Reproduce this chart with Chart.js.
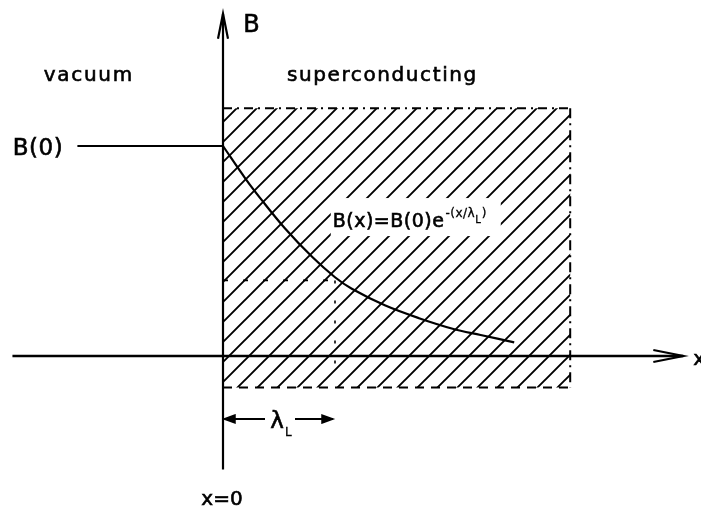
<!DOCTYPE html>
<html>
<head>
<meta charset="utf-8">
<script src="https://cdn.jsdelivr.net/npm/chart.js@4.4.1/dist/chart.umd.min.js"></script>
<style>
  html, body { margin: 0; padding: 0; background: #fff; }
  canvas { display: block; }
</style>
</head>
<body>
<canvas id="london-chart" width="701" height="507"></canvas>
<script>
// x in units of the London depth lambda_L, B in units of B(0)
const curveX = [0, 0.2, 0.35, 0.55, 0.8, 1.0, 1.15, 1.45, 1.75, 2.05, 2.3, 2.6];
const curveB = [1.0, 0.845, 0.74, 0.61, 0.47, 0.375, 0.32, 0.24, 0.18, 0.13, 0.1, 0.065];
const xAxisEnds = [-1.88, 4.11];
const bAxisEnds = [-0.54, 1.63];
const slabX = [0, 3.1];
const slabB = [-0.15, 1.18];
const b0LineX = [-1.3, 0];
const b0 = 1.0;
const lambdaL = 1.0;
const bAtLambda = 0.36;
const dropLineB = [bAtLambda, -0.07];
const lambdaArrowB = -0.3;
const regionLabels = ['vacuum', 'superconducting'];
const axisLabels = ['B', 'x'];
const formulaParts = ['B(x)=B(0)e', '-(x/λ', 'L', ')'];

function pts(xs, ys) {
  return xs.map((x, i) => ({ x: x, y: ys[i] }));
}

function hatchPattern() {
  const c = document.createElement('canvas');
  c.width = 20; c.height = 20;
  const g = c.getContext('2d');
  g.strokeStyle = '#000';
  g.lineWidth = 1.9;
  g.beginPath();
  g.moveTo(-2, 22); g.lineTo(22, -2);
  g.moveTo(-2, 2); g.lineTo(2, -2);
  g.moveTo(18, 22); g.lineTo(22, 18);
  g.stroke();
  const p = g.createPattern(c, 'repeat');
  p.setTransform(new DOMMatrix().translate(5, 0));
  return p;
}

function line(data, opts) {
  return Object.assign({
    data: data,
    borderColor: '#000',
    borderWidth: 2,
    pointRadius: 0,
    tension: 0,
    fill: false,
    order: 1,
  }, opts || {});
}

const datasets = [
  // B(x) decay curve
  line(pts(curveX, curveB), { tension: 0.35, order: 0, borderWidth: 2.2 }),
  // axes
  line(pts(xAxisEnds, [0, 0]), { borderWidth: 2.4 }),
  line(pts([0, 0], bAxisEnds), { borderWidth: 2.2 }),
  // B(0) level in vacuum
  line(pts(b0LineX, [b0, b0]), { borderWidth: 2.2 }),
  // slab borders
  line(pts(slabX, [slabB[1], slabB[1]]), { borderDash: [9, 5, 2, 5] }),
  line(pts([slabX[1], slabX[1]], [slabB[1], slabB[0]]), { borderDash: [10, 5, 2, 5] }),
  line(pts(slabX, [slabB[0], slabB[0]]), { borderDash: [9, 7] }),
  // value at lambda_L
  line(pts([0, lambdaL], [bAtLambda, bAtLambda]), { borderDash: [5, 15], borderWidth: 1.6 }),
  line(pts([lambdaL, lambdaL], dropLineB), { borderDash: [3, 17], borderWidth: 1.6 }),
  // hatched superconducting slab
  line(pts([slabX[0], slabX[0], slabX[1], slabX[1], slabX[0]],
           [slabB[0], slabB[1], slabB[1], slabB[0], slabB[0]]),
       { fill: 'shape', backgroundColor: hatchPattern(), borderColor: 'rgba(0,0,0,0)', order: 10 }),
];

const FONT = '"DejaVu Sans", sans-serif';

function text(ctx, s, x, y, size, spacing, align) {
  ctx.font = size + 'px ' + FONT;
  ctx.letterSpacing = (spacing || 0) + 'px';
  ctx.textAlign = align || 'left';
  ctx.textBaseline = 'alphabetic';
  ctx.fillStyle = '#000';
  ctx.strokeStyle = '#000';
  ctx.lineWidth = size > 14 ? 0.6 : 0.3;
  ctx.fillText(s, x, y);
  ctx.strokeText(s, x, y);
  const w = ctx.measureText(s).width;
  ctx.letterSpacing = '0px';
  return w;
}

function head(ctx, tx, ty, dx, dy, len, half, filled) {
  const bx = tx - dx * len, by = ty - dy * len;
  const nx = -dy, ny = dx;
  ctx.beginPath();
  ctx.moveTo(bx + nx * half, by + ny * half);
  ctx.lineTo(tx, ty);
  ctx.lineTo(bx - nx * half, by - ny * half);
  if (filled) { ctx.closePath(); ctx.fill(); }
  ctx.stroke();
}

const annotate = {
  id: 'annotate',
  afterDatasetsDraw(chart) {
    const ctx = chart.ctx;
    const px = v => chart.scales.x.getPixelForValue(v);
    const py = v => chart.scales.y.getPixelForValue(v);
    ctx.save();
    ctx.strokeStyle = '#000';
    ctx.fillStyle = '#000';
    ctx.lineWidth = 2.2;

    // axis arrowheads
    head(ctx, px(xAxisEnds[1]), py(0), 1, 0, 30, 6, false);
    head(ctx, px(0), py(bAxisEnds[1]), 0, -1, 25, 5, false);

    // region and axis labels
    text(ctx, regionLabels[0], px(-1.6), py(1.31), 20, 1.7);
    text(ctx, regionLabels[1], px(0.571), py(1.31), 20, 1.6);
    text(ctx, axisLabels[0], px(0.18), py(1.543), 24, 0);
    text(ctx, axisLabels[1], px(xAxisEnds[1]) + 10, py(0) + 9, 20, 0);
    text(ctx, 'B(0)', px(b0LineX[0]) - 14, py(b0) + 9, 23, 0.6, 'right');

    // formula on white box
    const fx = px(0.98), fy = py(0.614);
    ctx.fillStyle = '#fff';
    ctx.fillRect(fx - 2, fy - 29, 170, 38);
    let w = text(ctx, formulaParts[0], fx, fy, 19, 0.5);
    let sx = fx + w + 1;
    w = text(ctx, formulaParts[1], sx, fy - 10, 12, 0.5);
    sx += w;
    w = text(ctx, formulaParts[2], sx, fy - 4, 10, 0);
    sx += w + 1;
    text(ctx, formulaParts[3], sx, fy - 10, 12, 0);

    // lambda_L dimension arrow
    const ay = py(lambdaArrowB);
    const ax0 = px(0), ax1 = px(lambdaL) - 2;
    const mid = (ax0 + ax1) / 2 + 3;
    ctx.fillStyle = '#000';
    ctx.lineWidth = 2;
    ctx.beginPath();
    ctx.moveTo(ax0 + 2, ay); ctx.lineTo(mid - 16, ay);
    ctx.moveTo(mid + 14, ay); ctx.lineTo(ax1, ay);
    ctx.stroke();
    ctx.lineWidth = 1.5;
    head(ctx, ax0 + 1, ay, -1, 0, 11, 4, true);
    head(ctx, ax1, ay, 1, 0, 11, 4, true);
    text(ctx, 'λ', mid - 4, ay + 9, 23, 0, 'center');
    text(ctx, 'L', mid + 4, ay + 17, 12, 0);

    // x = 0 marker
    text(ctx, 'x=0', px(0) - 1, py(-0.71), 20, 0, 'center');
    ctx.restore();
  }
};

const whiteBg = {
  id: 'whiteBg',
  beforeDraw(chart) {
    const ctx = chart.ctx;
    ctx.save();
    ctx.fillStyle = '#fff';
    ctx.fillRect(0, 0, chart.width, chart.height);
    ctx.restore();
  }
};

new Chart(document.getElementById('london-chart'), {
  type: 'line',
  data: { datasets: datasets },
  options: {
    responsive: false,
    animation: false,
    events: [],
    layout: { padding: 0 },
    plugins: { legend: { display: false }, tooltip: { enabled: false } },
    scales: {
      x: { type: 'linear', display: false, min: -223 / 112, max: 478 / 112 },
      y: { type: 'linear', display: false, min: -151 / 210, max: 356 / 210 },
    },
  },
  plugins: [whiteBg, annotate],
});
</script>
</body>
</html>
